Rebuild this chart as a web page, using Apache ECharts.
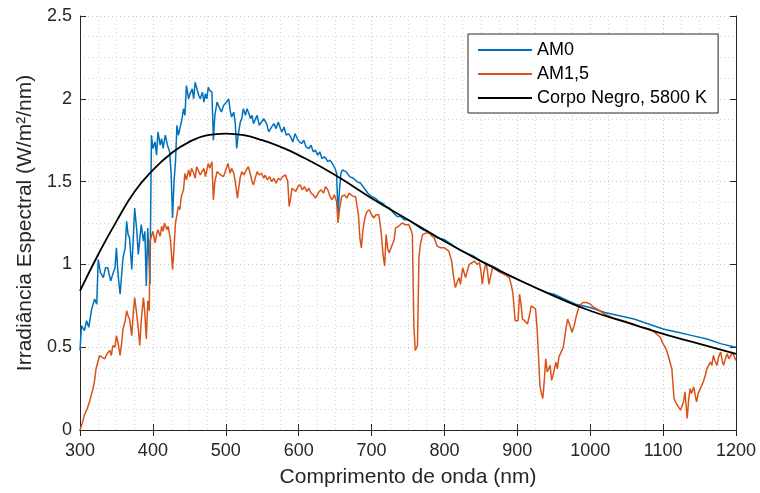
<!DOCTYPE html>
<html>
<head>
<meta charset="utf-8" />
<title>Irradiância Espectral</title>
<style>
	*{
		margin: 0;
		padding: 0;
	}
	body{
		background: #ffffff;
	}
	.chart_show{
		width: 760px;
		height: 493px;
	}
</style>
<script src="https://cdn.jsdelivr.net/npm/echarts@6/dist/echarts.min.js"></script>
</head>
<body>
<div id="chart_show" class="chart_show"></div>
<script>
// comprimentos de onda (nm) e valores
var am0Wl = [300,302,306,309,312,316,320,323,325,328,332,335,338,342,345,348,350,352,355,359,362,364,366,368,371,373,375,378,380,382,384,387,389,391,393,396,398,400,403,405,407,410,412,414,417,420,423,425,427,429,431,433,435,437,440,442,444,446,449,451,454,456,458,461,463,465,468,470,472,474,476,478,481,483,485,488,491,494,497,501,504,506,508,511,513,515,517,520,522,524,527,529,531,534,536,538,541,543,546,549,552,556,559,563,566,569,572,575,577,580,583,586,589,592,595,598,601,604,607,610,614,617,620,623,626,629,632,636,640,643,646,650,652,654,656,658,660,665,670,675,680,685,690,695,700,705,710,715,720,725,730,735,740,745,750,760,770,780,790,800,810,820,830,840,850,860,870,880,890,900,910,920,930,940,950,960,970,980,990,1000,1020,1040,1060,1080,1100,1120,1140,1160,1180,1200];
var am0Val = [0.48,0.63,0.60,0.66,0.62,0.73,0.79,0.76,1.03,0.95,0.92,0.98,0.98,0.90,0.94,0.98,1.10,0.95,0.82,1.04,1.10,1.26,1.18,1.16,0.97,1.15,1.34,1.20,1.06,1.15,1.24,1.14,1.20,0.87,1.22,0.88,1.78,1.70,1.74,1.66,1.80,1.72,1.76,1.70,1.78,1.72,1.68,1.55,1.28,1.50,1.62,1.84,1.78,1.82,1.88,1.94,1.90,2.08,2.00,2.03,2.06,2.00,2.10,2.05,2.02,2.00,2.04,1.98,2.03,2.00,2.07,2.05,2.04,1.75,1.90,1.98,1.95,1.92,1.96,1.98,2.00,1.93,1.89,1.92,1.85,1.70,1.78,1.86,1.88,1.94,1.90,1.94,1.92,1.88,1.90,1.85,1.88,1.90,1.84,1.86,1.88,1.85,1.80,1.83,1.85,1.82,1.86,1.82,1.80,1.83,1.78,1.79,1.77,1.74,1.79,1.76,1.74,1.73,1.75,1.71,1.70,1.72,1.68,1.69,1.66,1.68,1.64,1.65,1.62,1.63,1.61,1.58,1.55,1.30,1.45,1.55,1.57,1.56,1.53,1.52,1.50,1.49,1.46,1.43,1.41,1.40,1.38,1.37,1.35,1.34,1.31,1.29,1.29,1.27,1.27,1.24,1.21,1.19,1.16,1.15,1.12,1.09,1.07,1.05,1.02,1.00,0.98,0.95,0.93,0.91,0.89,0.87,0.85,0.83,0.82,0.80,0.78,0.76,0.75,0.74,0.71,0.69,0.67,0.64,0.61,0.59,0.57,0.55,0.52,0.50];

var am15Wl = [300,303,306,310,313,316,318,320,322,325,327,330,334,337,341,343,345,348,350,352,355,357,359,362,364,366,368,371,373,375,377,380,382,384,387,389,391,393,395,396,398,400,403,405,407,410,412,414,416,419,421,424,427,429,431,433,435,437,439,442,444,446,449,451,453,456,458,460,463,465,467,470,472,474,476,478,481,483,485,488,490,493,497,500,503,506,508,511,513,516,518,520,522,525,528,531,534,536,538,541,543,546,549,552,554,557,560,563,566,569,572,575,578,582,585,587,589,591,593,596,599,602,605,608,611,614,617,620,623,625,628,631,634,637,640,643,646,649,652,654,656,659,663,666,669,672,675,678,680,682,684,686,688,690,692,694,697,700,703,706,710,713,716,718,720,722,724,726,728,731,733,737,742,746,751,754,756,758,760,763,765,767,770,775,779,783,786,790,795,800,806,810,812,815,818,820,822,825,827,829,832,834,838,841,845,848,850,852,854,857,859,861,864,866,870,873,877,882,886,889,892,894,897,901,903,905,907,910,914,917,919,922,925,927,929,931,933,935,937,939,941,943,945,947,949,951,953,955,957,960,963,965,967,969,971,973,975,978,981,985,990,995,1000,1005,1013,1020,1030,1036,1045,1059,1070,1082,1091,1096,1100,1104,1107,1110,1112,1115,1118,1121,1124,1126,1128,1130,1133,1135,1137,1139,1142,1144,1146,1148,1151,1153,1155,1158,1160,1162,1165,1167,1169,1171,1174,1176,1179,1181,1183,1186,1188,1190,1193,1195,1197,1200];
var am15Val = [0.00,0.04,0.09,0.13,0.17,0.22,0.25,0.30,0.37,0.42,0.45,0.44,0.43,0.46,0.48,0.45,0.51,0.50,0.57,0.53,0.45,0.52,0.61,0.66,0.72,0.69,0.67,0.57,0.70,0.80,0.73,0.61,0.51,0.66,0.80,0.70,0.55,0.78,0.72,1.14,1.17,1.20,1.13,1.18,1.21,1.17,1.23,1.20,1.25,1.21,1.23,1.15,0.97,1.10,1.25,1.30,1.35,1.33,1.41,1.45,1.55,1.51,1.57,1.53,1.58,1.55,1.52,1.59,1.56,1.54,1.55,1.58,1.53,1.57,1.61,1.58,1.62,1.39,1.50,1.56,1.57,1.54,1.53,1.57,1.61,1.55,1.58,1.55,1.50,1.40,1.47,1.53,1.56,1.54,1.57,1.59,1.54,1.50,1.48,1.53,1.56,1.54,1.55,1.52,1.54,1.51,1.53,1.50,1.52,1.49,1.52,1.51,1.53,1.54,1.50,1.35,1.40,1.46,1.46,1.44,1.47,1.48,1.45,1.47,1.44,1.46,1.43,1.42,1.40,1.41,1.44,1.45,1.43,1.47,1.45,1.41,1.39,1.42,1.38,1.25,1.33,1.41,1.42,1.40,1.43,1.42,1.41,1.41,1.40,1.30,1.16,1.10,1.20,1.26,1.30,1.32,1.33,1.30,1.28,1.30,1.30,1.20,1.05,0.99,1.18,1.10,1.07,1.09,1.08,1.15,1.22,1.23,1.25,1.24,1.24,1.21,1.18,0.63,0.48,0.51,1.04,1.12,1.18,1.19,1.19,1.17,1.16,1.11,1.10,1.10,1.08,1.02,0.94,0.86,0.90,0.92,0.88,0.98,0.95,0.92,0.97,1.00,1.01,1.02,1.00,1.01,0.96,0.88,0.95,1.01,0.96,0.88,0.94,0.98,0.97,0.96,0.95,0.94,0.93,0.92,0.87,0.82,0.66,0.66,0.82,0.76,0.67,0.66,0.64,0.70,0.75,0.74,0.73,0.62,0.45,0.27,0.22,0.19,0.30,0.43,0.35,0.36,0.39,0.30,0.33,0.37,0.41,0.37,0.44,0.47,0.50,0.51,0.62,0.67,0.67,0.62,0.59,0.63,0.69,0.75,0.77,0.77,0.76,0.74,0.72,0.70,0.68,0.67,0.66,0.64,0.62,0.61,0.58,0.56,0.52,0.49,0.45,0.40,0.37,0.19,0.16,0.14,0.12,0.11,0.17,0.23,0.07,0.18,0.25,0.22,0.26,0.21,0.17,0.22,0.25,0.24,0.29,0.33,0.37,0.36,0.41,0.39,0.45,0.42,0.39,0.44,0.47,0.42,0.39,0.44,0.46,0.43,0.45,0.47,0.46,0.42];

var bbWl = [300,325,350,375,400,425,450,475,500,525,550,575,600,650,700,750,800,850,900,950,1000,1050,1100,1150,1200];
var bbVal = [0.84,1.06,1.26,1.44,1.57,1.67,1.74,1.78,1.79,1.78,1.75,1.71,1.66,1.54,1.40,1.27,1.14,1.02,0.91,0.81,0.72,0.65,0.58,0.52,0.46];

var xTicks = [300,400,500,600,700,800,900,1000,1100,1200];
var yTicks = [0,0.5,1,1.5,2,2.5];

function pares(wl, val){
	var out = [];
	for(var i = 0; i < wl.length; i++){
		out.push([wl[i], val[i]]);
	}
	return out;
}

var eixoCor = '#262626';
var fonte = '"Liberation Sans", Arial, sans-serif';

var oChart = echarts.init(document.getElementById('chart_show'));
var chartopt = {
	backgroundColor: '#ffffff',
	animation: false,
	textStyle: {fontFamily: fonte},
	grid: {left: 80, right: 24, top: 16, bottom: 63},
	legend: {
		orient: 'vertical',
		left: 468,
		top: 34,
		icon: 'rect',
		itemWidth: 54,
		itemHeight: 2,
		itemGap: 6,
		padding: [7, 11, 6, 10],
		backgroundColor: '#ffffff',
		borderColor: eixoCor,
		borderWidth: 1,
		textStyle: {fontSize: 18, color: '#000000', lineHeight: 18, fontFamily: fonte},
		data: ['AM0', 'AM1,5', 'Corpo Negro, 5800 K']
	},
	xAxis: [
		{
			type: 'value',
			min: xTicks[0],
			max: xTicks[xTicks.length - 1],
			interval: 100,
			name: 'Comprimento de onda (nm)',
			nameLocation: 'middle',
			nameGap: 37,
			nameTextStyle: {fontSize: 21, color: eixoCor},
			axisLine: {lineStyle: {color: eixoCor, width: 1}},
			axisTick: {inside: true, length: 6, lineStyle: {color: eixoCor}},
			axisLabel: {fontSize: 18, color: eixoCor, margin: 12, formatter: function(v){ return String(v); }},
			splitLine: {show: true, lineStyle: {color: '#c8c8c8', type: [1, 3]}},
			minorTick: {show: false, splitNumber: 4},
			minorSplitLine: {show: true, lineStyle: {color: '#d6d6d6', type: [1, 3]}}
		},
		{
			type: 'value',
			position: 'top',
			min: xTicks[0],
			max: xTicks[xTicks.length - 1],
			interval: 100,
			axisLine: {lineStyle: {color: eixoCor, width: 1}},
			axisTick: {inside: true, length: 6, lineStyle: {color: eixoCor}},
			axisLabel: {show: false},
			splitLine: {show: false}
		}
	],
	yAxis: [
		{
			type: 'value',
			min: yTicks[0],
			max: yTicks[yTicks.length - 1],
			interval: 0.5,
			name: 'Irradiância Espectral (W/m²/nm)',
			nameLocation: 'middle',
			nameGap: 43,
			nameTextStyle: {fontSize: 21, color: eixoCor},
			axisLine: {show: true, lineStyle: {color: eixoCor, width: 1}},
			axisTick: {show: true, inside: true, length: 6, lineStyle: {color: eixoCor}},
			axisLabel: {fontSize: 18, color: eixoCor, margin: 8},
			splitLine: {show: true, lineStyle: {color: '#c8c8c8', type: [1, 3]}},
			minorTick: {show: false, splitNumber: 4},
			minorSplitLine: {show: true, lineStyle: {color: '#d6d6d6', type: [1, 3]}}
		},
		{
			type: 'value',
			position: 'right',
			min: yTicks[0],
			max: yTicks[yTicks.length - 1],
			interval: 0.5,
			axisLine: {show: true, lineStyle: {color: eixoCor, width: 1}},
			axisTick: {show: true, inside: true, length: 6, lineStyle: {color: eixoCor}},
			axisLabel: {show: false},
			splitLine: {show: false}
		}
	],
	series: [
		{
			name: 'AM0',
			type: 'line',
			symbol: 'none',
			lineStyle: {color: '#0072BD', width: 1.5},
			itemStyle: {color: '#0072BD'},
			data: pares(am0Wl, am0Val)
		},
		{
			name: 'AM1,5',
			type: 'line',
			symbol: 'none',
			lineStyle: {color: '#D95319', width: 1.5},
			itemStyle: {color: '#D95319'},
			data: pares(am15Wl, am15Val)
		},
		{
			name: 'Corpo Negro, 5800 K',
			type: 'line',
			symbol: 'none',
			smooth: true,
			lineStyle: {color: '#000000', width: 1.8},
			itemStyle: {color: '#000000'},
			data: pares(bbWl, bbVal)
		}
	]
};
oChart.setOption(chartopt);
</script>
</body>
</html>
